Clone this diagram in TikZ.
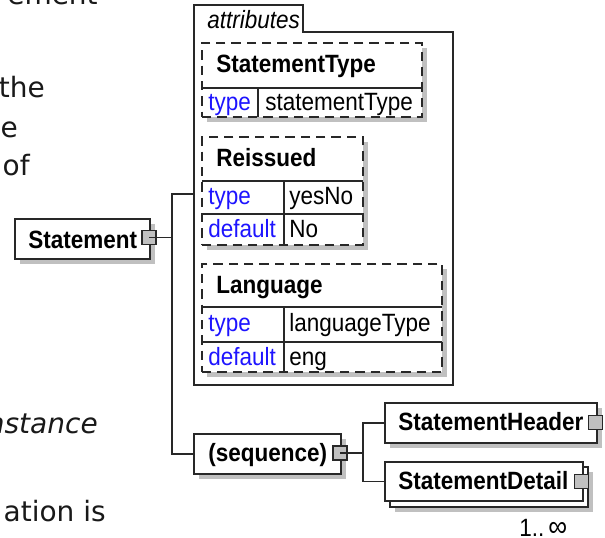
\documentclass[tikz,border=0pt]{standalone}
\usepackage{fontspec}
\setmainfont{Liberation Sans}[FakeStretch=0.9]
\newfontfamily\bgfont{DejaVu Sans}
\usetikzlibrary{fit,shadows}
\definecolor{attrblue}{RGB}{30,20,255}
\definecolor{shadowgray}{RGB}{192,192,192}
\definecolor{sqgray}{RGB}{192,192,192}
\definecolor{linegray}{RGB}{40,40,40}
\definecolor{bgtext}{RGB}{25,25,25}
\newcommand\xsdfont{\fontsize{18.75pt}{20pt}\selectfont}
\newcommand\xsbgfont{\bgfont\fontsize{21pt}{24pt}\selectfont}
\begin{document}
\begin{tikzpicture}[x=0.75pt,y=-0.75pt,
  ln/.style={draw=linegray, line width=0.8pt},
  shad/.style={drop shadow={shadow xshift=3.75pt, shadow yshift=-3.75pt, fill=shadowgray, opacity=1}},
  elbox/.style={ln, fill=white, inner sep=0pt},
  dbox/.style={ln, fill=white, inner sep=0pt, dash pattern=on 7pt off 4.5pt},
  sqbox/.style={ln, fill=sqgray, minimum size=10.5pt, inner sep=0pt},
  txt/.style={inner sep=0pt, font=\xsdfont, text=black, anchor=base west},
  nametxt/.style={txt, font=\xsdfont\bfseries},
  keytxt/.style={txt, text=attrblue},
  bgtxt/.style={inner sep=0pt, font=\xsbgfont, text=bgtext, anchor=base east}
]
\useasboundingbox (0,0) rectangle (605,537);
\fill[white] (0,0) rectangle (605,537);

% background text fragments
\node[bgtxt] (bg1) at (98,4.5) {ement};
\node[bgtxt] (bg2) at (45,97) {the};
\node[bgtxt] (bg3) at (18,137) {e};
\node[bgtxt] (bg4) at (30,175) {of};
\node[bgtxt, font=\xsbgfont\itshape] (bg5) at (98,433) {nstance};
\node[bgtxt] (bg6) at (106,521) {ation is};

% attributes frame
\draw[ln, fill=white] (194,385) -- (194,5) -- (303,5) -- (303,32) -- (453,32) -- (453,385) -- cycle;
\node[inner sep=0pt, fit={(194,32) (453,385)}] (attr) {};
\node[txt, font=\xsdfont\itshape] (attrT) at (207,28) {attributes};

% StatementType
\node[dbox, shad, fit={(202,43) (422,117)}] (st) {};
\draw[ln] (202,88) -- (422,88);
\draw[ln] (258,88) -- (258,117);
\node[nametxt] (stT) at (216,72) {StatementType};
\node[keytxt] (stK) at (208,110) {type};
\node[txt] (stV) at (265,110) {statementType};

% Reissued
\node[dbox, shad, fit={(202,137) (363,245)}] (re) {};
\draw[ln] (202,181) -- (363,181);
\draw[ln] (202,214) -- (363,214);
\draw[ln] (284,181) -- (284,245);
\node[nametxt] (reT) at (216,166) {Reissued};
\node[keytxt] (reK1) at (208,204) {type};
\node[txt] (reV1) at (289,204) {yesNo};
\node[keytxt] (reK2) at (208,237) {default};
\node[txt] (reV2) at (289,237) {No};

% Language
\node[dbox, shad, fit={(202,264) (442,372)}] (la) {};
\draw[ln] (202,307) -- (442,307);
\draw[ln] (202,342) -- (442,342);
\draw[ln] (284,307) -- (284,372);
\node[nametxt] (laT) at (216,293) {Language};
\node[keytxt] (laK1) at (208,331) {type};
\node[txt] (laV1) at (289,331) {languageType};
\node[keytxt] (laK2) at (208,365) {default};
\node[txt] (laV2) at (289,365) {eng};

% Statement
\node[elbox, shad, fit={(15,219) (150,259)}] (stmt) {};
\node[nametxt] (stmtT) at (28,248) {Statement};
\node[sqbox] (stmtSq) at (149,237.5) {};

% sequence
\node[elbox, shad, fit={(194,434) (341,474)}] (seq) {};
\node[nametxt] (seqT) at (208,461) {(sequence)};
\node[sqbox] (seqSq) at (340,453) {};

% StatementHeader
\node[elbox, shad, fit={(385,403) (597,443)}] (hdr) {};
\node[nametxt] (hdrT) at (398,430.5) {StatementHeader};
\node[sqbox] (hdrSq) at (595.5,422.5) {};

% StatementDetail (stacked)
\node[elbox, shad, fit={(390,467) (588,507)}] (detB) {};
\node[elbox, fit={(385,462) (583,501)}] (det) {};
\node[nametxt] (detT) at (398,489) {StatementDetail};
\node[sqbox] (detSq) at (581.5,481.5) {};
\node[txt] (mult) at (519,536) {1..\,{\fontsize{22pt}{22pt}\selectfont ∞}};

% connectors
\coordinate (j1) at (172,194);
\coordinate (k1) at (363,421);
\draw[ln] (stmtSq.center) -- (stmtSq.center -| j1);
\draw[ln] (attr.west |- j1) -- (j1) -- (j1 |- seq.west) -- (seq.west);
\draw[ln] (seqSq.center) -- (seqSq.center -| k1);
\draw[ln] (hdr.west) -- (hdr.west -| k1) -- (k1 |- det.west) -- (det.west);
\end{tikzpicture}
\end{document}
